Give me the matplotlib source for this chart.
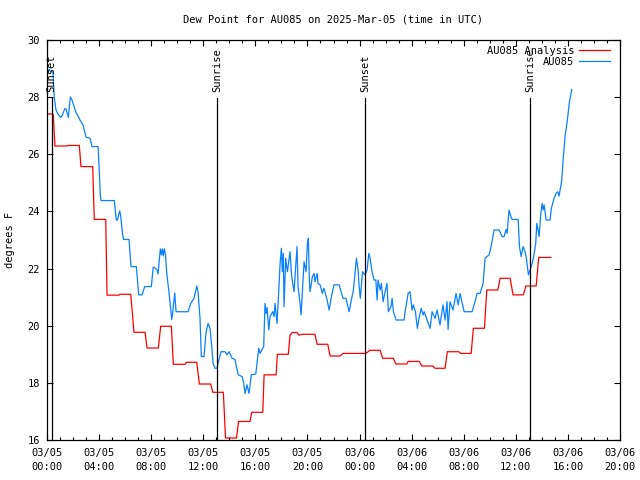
import matplotlib
matplotlib.use("Agg")
import matplotlib.pyplot as plt
from matplotlib.ticker import MultipleLocator

# ---- data (hours since 2025-03-05 00:00 UTC, dew point in degF) ----
analysis_h = [0.0, 0.48, 0.61, 1.54, 1.6, 2.48, 2.61, 3.51, 3.63, 4.51, 4.61, 5.53, 5.6, 6.43,
              6.68, 7.53, 7.68, 8.55, 8.73, 9.55, 9.7, 10.62, 10.71, 11.5, 11.7, 12.57, 12.73,
              13.54, 13.71, 14.55, 14.71, 15.59, 15.72, 16.57, 16.67, 17.59, 17.69, 18.53, 18.66,
              18.82, 19.2, 19.35, 19.59, 20.58, 20.74, 21.56, 21.74, 22.5, 22.73, 24.48, 24.81,
              25.58, 25.78, 26.6, 26.78, 27.63, 27.73, 28.59, 28.78, 29.62, 29.8, 30.57, 30.74,
              31.62, 31.77, 32.57, 32.74, 33.59, 33.77, 34.62, 34.79, 35.56, 35.79, 36.58, 36.77,
              37.56, 37.76, 38.69]
analysis_v = [27.41, 27.41, 26.29, 26.29, 26.31, 26.31, 25.57, 25.57, 23.72, 23.72, 21.07, 21.07,
              21.1, 21.1, 19.77, 19.77, 19.22, 19.22, 19.98, 19.98, 18.65, 18.65, 18.72, 18.72,
              17.96, 17.96, 17.67, 17.67, 16.07, 16.07, 16.65, 16.65, 16.97, 16.97, 18.28, 18.28,
              19.0, 19.0, 19.67, 19.76, 19.76, 19.67, 19.7, 19.7, 19.35, 19.35, 18.94, 18.94,
              19.03, 19.03, 19.14, 19.14, 18.86, 18.86, 18.66, 18.66, 18.75, 18.75, 18.59, 18.59,
              18.51, 18.51, 19.09, 19.09, 19.03, 19.03, 19.91, 19.91, 21.25, 21.25, 21.66, 21.66,
              21.08, 21.08, 21.39, 21.39, 22.39, 22.39]

obs_h = [0.0, 0.15, 0.31, 0.46, 0.56, 0.69, 0.84, 1.05, 1.15, 1.36, 1.46, 1.64, 1.79, 1.92, 2.07,
         2.23, 2.38, 2.53, 2.76, 3.0, 3.3, 3.46, 3.92, 3.96, 4.03, 4.09, 4.15, 5.17, 5.32, 5.41,
         5.58, 5.65, 5.81, 5.88, 6.3, 6.45, 6.86, 7.04, 7.3, 7.5, 8.01, 8.16, 8.29, 8.45, 8.53,
         8.7, 8.78, 8.86, 8.93, 9.01, 9.1, 9.19, 9.37, 9.58, 9.64, 9.81, 9.91, 10.83, 11.04,
         11.29, 11.5, 11.6, 11.75, 11.85, 12.06, 12.21, 12.37, 12.52, 12.65, 12.75, 12.9, 13.06,
         13.13, 13.36, 13.67, 13.82, 13.98, 14.21, 14.44, 14.55, 14.69, 14.98, 15.11, 15.21,
         15.36, 15.51, 15.69, 16.03, 16.26, 16.36, 16.64, 16.74, 16.82, 16.9, 17.03, 17.13,
         17.33, 17.43, 17.51, 17.66, 17.8, 17.9, 18.0, 18.07, 18.15, 18.2, 18.33, 18.46, 18.66,
         18.79, 18.97, 19.2, 19.28, 19.43, 19.51, 19.74, 19.89, 19.99, 20.07, 20.15, 20.2,
         20.38, 20.51, 20.58, 20.74, 20.81, 20.97, 21.14, 21.27, 21.51, 21.66, 21.84, 22.04,
         22.43, 22.73, 22.96, 23.2, 23.37, 23.53, 23.76, 23.89, 23.96, 24.06, 24.23, 24.42,
         24.58, 24.71, 24.81, 24.96, 25.12, 25.25, 25.35, 25.42, 25.58, 25.68, 25.81, 25.96,
         26.11, 26.21, 26.42, 26.5, 26.6, 26.81, 27.42, 27.5, 27.73, 27.88, 28.03, 28.13, 28.29,
         28.44, 28.57, 28.73, 28.88, 28.96, 29.19, 29.42, 29.57, 29.8, 29.95, 30.18, 30.41,
         30.57, 30.72, 30.8, 30.95, 31.18, 31.41, 31.57, 31.72, 32.03, 32.64, 32.87, 33.03,
         33.26, 33.49, 33.64, 33.79, 33.95, 34.1, 34.33, 34.72, 34.95, 35.1, 35.25, 35.33,
         35.48, 35.56, 35.71, 36.18, 36.28, 36.41, 36.56, 36.71, 36.81, 36.89, 36.97, 37.1,
         37.25, 37.35, 37.53, 37.61, 37.71, 37.79, 37.92, 38.02, 38.1, 38.17, 38.33, 38.63,
         38.73, 38.94, 39.09, 39.22, 39.32, 39.45, 39.53, 39.63, 39.78, 39.96, 40.12, 40.3]
obs_v = [28.83, 28.97, 28.89, 28.88, 27.97, 27.55, 27.41, 27.29, 27.34, 27.59, 27.59, 27.29, 28.0,
         27.9, 27.69, 27.46, 27.34, 27.2, 27.03, 26.6, 26.56, 26.27, 26.27, 25.94, 25.28, 24.58,
         24.38, 24.38, 23.7, 23.7, 24.02, 23.88, 23.18, 23.02, 23.02, 22.07, 22.07, 21.08, 21.08,
         21.37, 21.37, 22.05, 22.02, 21.95, 21.81, 22.69, 22.48, 22.69, 22.44, 22.69, 22.48,
         21.86, 21.16, 20.22, 20.41, 21.14, 20.49, 20.49, 20.78, 20.96, 21.39, 21.18, 20.26,
         18.92, 18.92, 19.76, 20.08, 19.91, 19.27, 18.68, 18.51, 18.51, 18.68, 19.09, 19.09,
         18.98, 19.09, 18.86, 18.82, 18.55, 18.28, 18.22, 17.98, 17.63, 17.93, 17.63, 18.28,
         18.31, 19.21, 19.03, 19.27, 20.78, 20.43, 20.64, 19.85, 20.32, 20.49, 20.32, 20.78,
         20.08, 21.25, 22.18, 22.71, 21.89, 22.53, 20.67, 22.36, 21.89, 22.59, 21.72, 21.19,
         22.77, 21.37, 20.78, 20.38, 22.24, 21.89, 22.83, 23.06, 21.54, 21.19, 21.72, 21.83,
         21.54, 21.83, 21.48, 21.43, 21.13, 21.31, 20.9, 20.55, 21.02, 21.43, 21.43, 20.96,
         20.96, 20.49, 20.9, 21.25, 22.36, 21.95, 21.43, 20.96, 21.89, 21.78, 21.95, 22.53,
         22.36, 21.89, 21.6, 21.6, 20.9, 21.6, 21.25, 21.48, 20.84, 21.19, 21.48, 20.49, 20.67,
         20.96, 20.49, 20.2, 20.2, 20.49, 21.13, 21.19, 20.55, 20.73, 20.49, 19.91, 20.26,
         20.61, 20.38, 20.49, 20.2, 19.91, 20.49, 20.26, 20.55, 20.03, 20.73, 20.2, 20.84,
         19.87, 20.84, 20.55, 21.13, 20.73, 21.13, 20.49, 20.49, 20.84, 21.13, 21.13, 21.48,
         22.37, 22.42, 22.48, 22.77, 23.35, 23.35, 23.12, 23.12, 23.37, 23.23, 24.05, 23.91,
         23.72, 23.72, 22.77, 22.42, 22.77, 22.59, 22.36, 22.07, 21.78, 21.95, 22.18, 22.36,
         22.88, 23.58, 23.35, 23.12, 23.93, 24.28, 24.05, 24.23, 23.7, 23.7, 24.11, 24.46,
         24.63, 24.69, 24.54, 24.87, 25.1, 25.8, 26.62, 27.2, 27.84, 28.27]

sun_h = [0.36, 13.06, 24.45, 37.12]
sun_labels = ["Sunset", "Sunrise", "Sunset", "Sunrise"]

xtick_h = [0, 4, 8, 12, 16, 20, 24, 28, 32, 36, 40, 44]
xtick_labels = ["03/05\n00:00", "03/05\n04:00", "03/05\n08:00", "03/05\n12:00",
                "03/05\n16:00", "03/05\n20:00", "03/06\n00:00", "03/06\n04:00",
                "03/06\n08:00", "03/06\n12:00", "03/06\n16:00", "03/06\n20:00"]
ytick_v = [16, 18, 20, 22, 24, 26, 28, 30]

FONT = "DejaVu Sans Mono"
FS = 7.5
plt.rcParams["font.family"] = FONT
plt.rcParams["font.size"] = FS

fig = plt.figure(figsize=(6.4, 4.8), dpi=100)
ax = fig.add_axes([47 / 640, 40 / 480, 573 / 640, 400 / 480])

ax.plot(analysis_h, analysis_v, color="#ff0000", lw=0.9, label="AU085 Analysis")
ax.plot(obs_h, obs_v, color="#0a80ff", lw=0.9, label="AU085")

for h, lab in zip(sun_h, sun_labels):
    ax.plot([h, h], [16, 27.97], color="black", lw=0.9)
    ax.text(h, 28.18, lab, rotation=90, ha="center", va="bottom", fontsize=FS)

ax.set_xlim(0, 44)
ax.set_ylim(16, 30)
ax.set_xticks(xtick_h)
ax.set_xticklabels(xtick_labels, linespacing=1.45)
ax.xaxis.set_minor_locator(MultipleLocator(1))
ax.set_yticks(ytick_v)
ax.tick_params(which="both", direction="in", top=True, right=True, width=0.8, pad=5)
ax.tick_params(which="major", length=4)
ax.tick_params(which="minor", length=2)
ax.tick_params(axis="x", which="major", pad=6)
for s in ax.spines.values():
    s.set_linewidth(0.9)

leg = ax.legend(loc="upper right", frameon=False, markerfirst=False, handlelength=2.9,
                handletextpad=0.5, labelspacing=0.12, borderaxespad=0.15,
                borderpad=0.4, fontsize=FS)
leg.set_bbox_to_anchor((0.992, 1.0), transform=ax.transAxes)

fig.text(333 / 640, 1 - 19 / 480, "Dew Point for AU085 on 2025-Mar-05 (time in UTC)",
         ha="center", va="center", fontsize=FS)
fig.text(10 / 640, 0.5, "degrees F", rotation=90, ha="center", va="center", fontsize=FS)

fig.savefig("out.png", dpi=100)
